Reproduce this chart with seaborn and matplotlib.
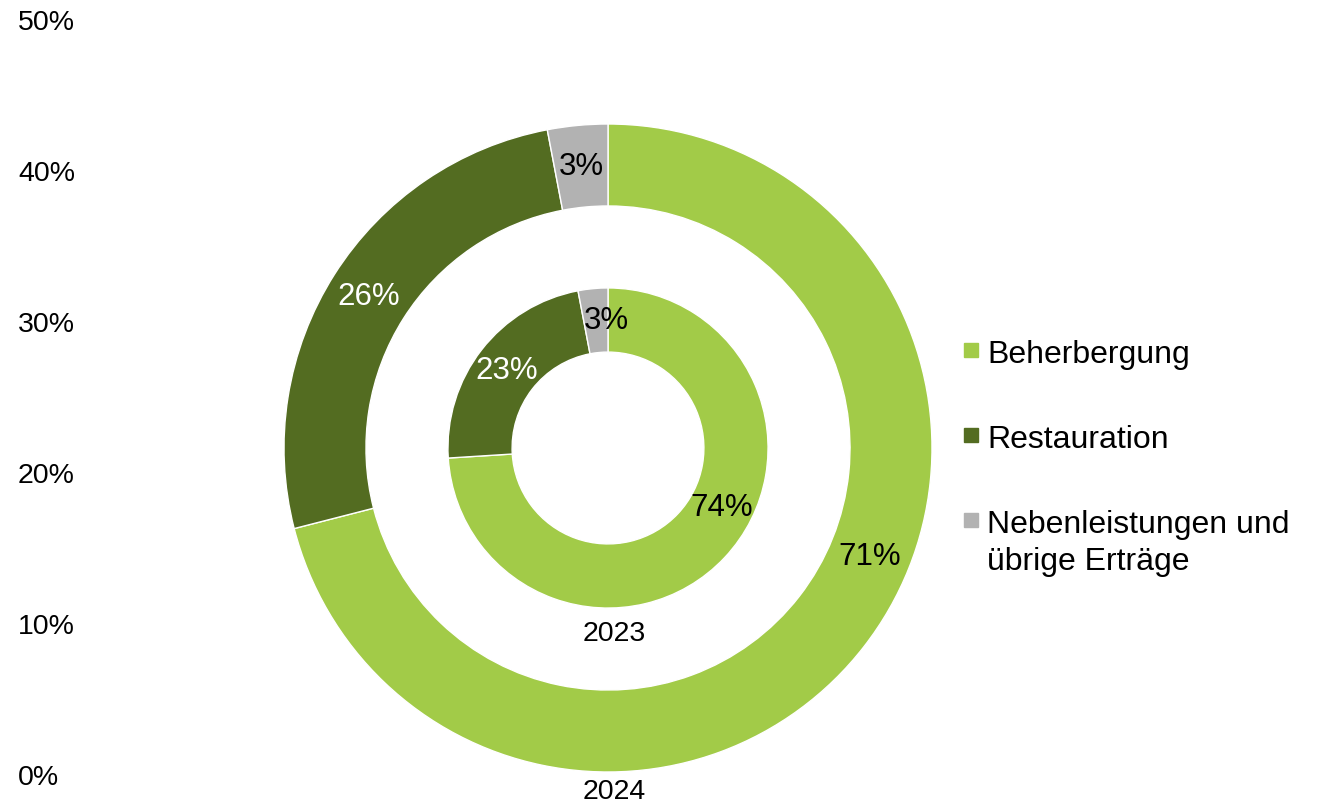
import numpy as np
import matplotlib.pyplot as plt
import seaborn as sns
from matplotlib.lines import Line2D

# data
categories = ['Beherbergung', 'Restauration', 'Nebenleistungen und\nübrige Erträge']
share_2024 = [71, 26, 3]
share_2023 = [74, 23, 3]
yticks = [0, 10, 20, 30, 40, 50]

colors = ['#A2CB48', '#536C21', '#B2B2B2']
label_colors = ['black', 'white', 'black']

sns.set_style('white')
plt.rcParams['font.family'] = ['Liberation Sans', 'DejaVu Sans']
plt.rcParams['text.color'] = 'black'
plt.rcParams['ytick.color'] = 'black'

W, H = 1319, 803
fig = plt.figure(figsize=(W / 100, H / 100), dpi=100)

# leftover value axis from the original chart: only the tick labels are shown
ax_y = fig.add_axes([100 / W, 28 / H, 10 / W, 755 / H])
ax_y.set_ylim(0, 50)
ax_y.set_yticks(yticks)
ax_y.set_yticklabels([f'{t}%' for t in yticks], fontsize=20.5, ha='left', color='black')
ax_y.tick_params(axis='y', length=0, pad=(100 - 18) * 72 / 100)
ax_y.set_xticks([])
sns.despine(ax=ax_y, left=True, bottom=True)

# the two rings
R = 324
ax = fig.add_axes([(608 - R) / W, (H - 449 - R) / H, 2 * R / W, 2 * R / H])
outer_w, inner_r, inner_w = 0.253, 0.494, 0.198
ax.pie(share_2024, radius=1, startangle=90, counterclock=False, colors=colors,
       wedgeprops=dict(width=outer_w, edgecolor='white', linewidth=1))
ax.pie(share_2023, radius=inner_r, startangle=90, counterclock=False, colors=colors,
       wedgeprops=dict(width=inner_w, edgecolor='white', linewidth=1))
ax.set_xlim(-1, 1)
ax.set_ylim(-1, 1)
ax.set_aspect('equal')
ax.axis('off')


def ring_labels(values, r_out, width, small_frac=0.5):
    start = 90
    total = sum(values)
    for i, v in enumerate(values):
        span = 360 * v / total
        # big slice label sits a bit before its middle, like in the original
        f = 0.44 if i == 0 else (small_frac if v < 5 else 0.5)
        ang = np.deg2rad(start - span * f)
        r = r_out - width / 2
        ax.text(r * np.cos(ang), r * np.sin(ang), f'{v}%', ha='center', va='center',
                color=label_colors[i], fontsize=22.5)
        start -= span


ring_labels(share_2024, 1, outer_w)
ring_labels(share_2023, inner_r, inner_w, small_frac=0.92)

ax.text(0.02, -1.06, '2024', ha='center', va='center', fontsize=20.5)
ax.text(0.02, -0.57, '2023', ha='center', va='center', fontsize=20.5)

handles = [Line2D([], [], marker='s', color=c, linestyle='none', markersize=10) for c in colors]
leg = fig.legend(handles=handles, labels=categories, loc='upper left',
                 bbox_to_anchor=(963 / W, 1 - 340 / H), frameon=False, fontsize=23,
                 handlelength=0.5, handletextpad=0.25, labelspacing=1.72,
                 borderpad=0, borderaxespad=0)
for t in leg.get_texts():
    t.set_linespacing(1.3)
# square next to the first line of the two-line entry
for col in leg._legend_handle_box.get_children():
    for row in col.get_children():
        row.align = 'top'

fig.savefig('out.png', dpi=100)
